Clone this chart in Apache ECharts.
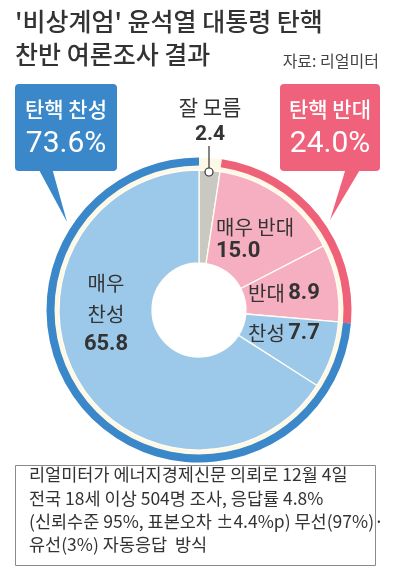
<!DOCTYPE html>
<html><head><meta charset="utf-8">
<script src="https://cdn.jsdelivr.net/npm/echarts@6/dist/echarts.min.js"></script>
<style>html,body{margin:0;padding:0;background:#fff}#c{width:393px;height:575px}</style>
</head><body><div id="c"></div>
<script>
// ---- data ----
const categories = ['잘 모름', '매우 반대', '반대', '찬성', '매우 찬성'];
const values = [2.4, 15.0, 8.9, 7.7, 65.8];
const groups = ['잘 모름', '탄핵 반대', '탄핵 찬성'];
const groupValues = [2.4, 24.0, 73.6];
const titleLines = ["'비상계엄' 윤석열 대통령 탄핵", '찬반 여론조사 결과'];
const sourceText = '자료: 리얼미터';
const noteLines = [
  '리얼미터가 에너지경제신문 의뢰로 12월 4일',
  '전국 18세 이상 504명 조사, 응답률 4.8%',
  '(신뢰수준 95%, 표본오차 ±4.4%p) 무선(97%)·',
  '유선(3%) 자동응답  방식'
];

// ---- styling ----
const KR = '"Noto Sans CJK KR", "Noto Sans", sans-serif';
const NUM = 'Roboto, "Noto Sans", sans-serif';
const sliceColors = ['#C9C9C2', '#F6AFC0', '#F6AFC0', '#9CC8EA', '#9CC8EA'];
const ringColors = ['rgba(0,0,0,0)', '#EF6079', '#3A87C9'];
const CX = 199, CY = 310;

const innerLabelPos = [
  {x: 210, y: 121, align: 'center'},
  {x: 216, y: 239, align: 'left'},
  {x: 248, y: 293, align: 'left'},
  {x: 248, y: 333, align: 'left'},
  {x: 106, y: 314, align: 'center'}
];
const innerMode = ['stack', 'stack', 'inline', 'inline', 'split'];
const ringLabelPos = [null, {x: 330, y: 127}, {x: 66, y: 127}];

const chart = echarts.init(document.getElementById('c'), null, {renderer: 'canvas'});

const graphics = [];
titleLines.forEach((t, i) => graphics.push({
  type: 'text', left: 15, top: 9 + i * 33, z: 5,
  style: {text: t, font: '500 25px ' + KR, fill: '#333'}
}));
graphics.push({type: 'text', right: 14, top: 53, z: 5,
  style: {text: sourceText, font: '16px ' + KR, fill: '#444'}});
// cream background disc
graphics.push({type: 'circle', shape: {cx: CX, cy: CY, r: 152.5}, z: 0, style: {fill: '#FDF9E6'}});
// white hole
graphics.push({type: 'circle', shape: {cx: CX, cy: CY, r: 47}, z: 3, style: {fill: '#fff'}});
// callout boxes
graphics.push({type: 'rect', shape: {x: 15, y: 84, width: 102, height: 87, r: 4}, z: 1, style: {fill: '#3A87C9'}});
graphics.push({type: 'polygon', shape: {points: [[38, 168], [52, 168], [67, 222]]}, z: 1, style: {fill: '#3A87C9'}});
graphics.push({type: 'rect', shape: {x: 280, y: 84, width: 100, height: 87, r: 4}, z: 1, style: {fill: '#F0627B'}});
graphics.push({type: 'polygon', shape: {points: [[346, 168], [361, 168], [330, 220]]}, z: 1, style: {fill: '#F0627B'}});
// leader for 잘 모름
graphics.push({type: 'line', shape: {x1: 209, y1: 146, x2: 209, y2: 168}, z: 6, style: {stroke: '#333', lineWidth: 1.2}});
graphics.push({type: 'circle', shape: {cx: 209, cy: 172, r: 4}, z: 6, style: {fill: '#fff', stroke: '#333', lineWidth: 1.2}});
// footnote
graphics.push({type: 'rect', shape: {x: 15.5, y: 465.5, width: 360, height: 100}, z: 1, style: {fill: '#fff', stroke: '#8a8a8a', lineWidth: 1}});
noteLines.forEach((t, i) => graphics.push({
  type: 'text', left: 29, top: 466 + i * 23.2, z: 5,
  style: {text: t, font: '17.5px ' + KR, fill: '#333'}
}));

function innerFormatter(p) {
  const i = p.dataIndex;
  const v = values[i].toFixed(1);
  const name = categories[i];
  if (innerMode[i] === 'inline') return '{n|' + name + '} {v|' + v + '}';
  if (innerMode[i] === 'split') return name.split(' ').map(s => '{n2|' + s + '}').join('\n') + '\n{v2|' + v + '}';
  if (i === 0) return '{g|' + name + '}\n{gv|' + v + '}';
  return '{n|' + name + '}\n{v|' + v + '}';
}

const option = {
  animation: false,
  backgroundColor: '#fff',
  graphic: {elements: graphics},
  series: [
    {
      type: 'pie', name: 'inner', center: [CX, CY], radius: [47, 140],
      startAngle: 90, clockwise: true, avoidLabelOverlap: false, silent: true, z: 2,
      itemStyle: {borderColor: '#FFFDF5', borderWidth: 1.3},
      label: {
        show: true, position: 'inside', formatter: innerFormatter, color: '#333',
        rich: {
          n: {fontFamily: KR, fontSize: 20, color: '#333', lineHeight: 24},
          v: {fontFamily: NUM, fontSize: 22, fontWeight: 'bold', color: '#333', lineHeight: 24},
          n2: {fontFamily: KR, fontSize: 20, color: '#333', lineHeight: 30.5},
          v2: {fontFamily: NUM, fontSize: 22, fontWeight: 'bold', color: '#333', lineHeight: 30.5},
          g: {fontFamily: KR, fontSize: 21, color: '#333', lineHeight: 28},
          gv: {fontFamily: NUM, fontSize: 21, fontWeight: 'bold', color: '#333', lineHeight: 28}
        }
      },
      labelLine: {show: false},
      labelLayout: function (p) {
        const pos = innerLabelPos[p.dataIndex];
        return {x: pos.x, y: pos.y, align: pos.align, verticalAlign: 'middle'};
      },
      data: categories.map((c, i) => ({name: c, value: values[i], itemStyle: {color: sliceColors[i]}}))
    },
    {
      type: 'pie', name: 'ring', center: [CX, CY], radius: [144.5, 152.5],
      startAngle: 90, clockwise: true, avoidLabelOverlap: false, silent: true, z: 2,
      label: {
        show: true, position: 'inside',
        formatter: p => p.dataIndex === 0 ? '' : '{a|' + groups[p.dataIndex] + '}\n{b|' + groupValues[p.dataIndex].toFixed(1) + '%}',
        rich: {
          a: {fontFamily: KR, fontSize: 21, fontWeight: 500, color: '#fff', lineHeight: 34},
          b: {fontFamily: NUM, fontSize: 30, color: '#fff', lineHeight: 36}
        }
      },
      labelLine: {show: false},
      labelLayout: function (p) {
        const pos = ringLabelPos[p.dataIndex];
        if (!pos) return {};
        return {x: pos.x, y: pos.y, align: 'center', verticalAlign: 'middle'};
      },
      data: groups.map((g, i) => ({name: g, value: groupValues[i], itemStyle: {color: ringColors[i]}}))
    }
  ]
};
chart.setOption(option);
</script>
</body></html>
